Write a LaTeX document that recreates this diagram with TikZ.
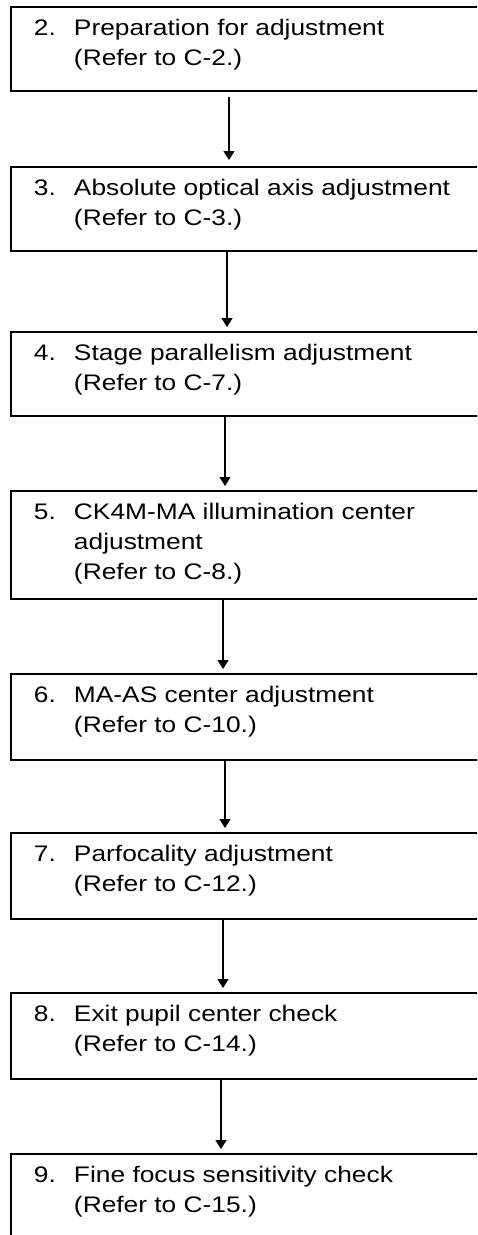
\documentclass[tikz,border=0pt]{standalone}
\usepackage{fontspec}
\setmainfont{Liberation Sans}[FakeStretch=1.17]
\usetikzlibrary{arrows.meta}
\tikzset{
  box/.style={draw, line width=1.6pt, rectangle, anchor=north west, minimum width=520pt, outer sep=0pt, inner sep=0pt},
  lbl/.style={anchor=base west, inner sep=0pt, outer sep=0pt, font=\fontsize{22.5}{30}\selectfont},
  arr/.style={line width=1.5pt, -{Triangle[length=9pt,width=11pt]}}
}
\newcommand{\steptext}[3]{\begin{tabular}[t]{@{}p{40pt}@{}l@{}}#1 & #2\\ & #3\end{tabular}}
\begin{document}
\begin{tikzpicture}[x=1pt,y=1pt]
\clip (0,0) rectangle (477,-1235);
\fill[white] (0,0) rectangle (477,-1235);
% boxes
\node[box, minimum height=84pt]  (b2) at (11,-7) {};
\node[box, minimum height=84pt]  (b3) at (11,-167) {};
\node[box, minimum height=84pt]  (b4) at (11,-332) {};
\node[box, minimum height=108pt] (b5) at (11,-491) {};
\node[box, minimum height=86pt]  (b6) at (11,-674) {};
\node[box, minimum height=86pt]  (b7) at (11,-833) {};
\node[box, minimum height=86pt]  (b8) at (11,-993) {};
\node[box, minimum height=90pt]  (b9) at (11,-1154) {};
% texts
\node[lbl] (t2) at (34,-35)   {\steptext{2.}{Preparation for adjustment}{(Refer to C-2.)}};
\node[lbl] (t3) at (34,-195)  {\steptext{3.}{Absolute optical axis adjustment}{(Refer to C-3.)}};
\node[lbl] (t4) at (34,-360)  {\steptext{4.}{Stage parallelism adjustment}{(Refer to C-7.)}};
\node[lbl] (t5) at (34,-519)  {\begin{tabular}[t]{@{}p{40pt}@{}l@{}}5. & CK4M-MA illumination center\\ & adjustment\\ & (Refer to C-8.)\end{tabular}};
\node[lbl] (t6) at (34,-702)  {\steptext{6.}{MA-AS center adjustment}{(Refer to C-10.)}};
\node[lbl] (t7) at (34,-861)  {\steptext{7.}{Parfocality adjustment}{(Refer to C-12.)}};
\node[lbl] (t8) at (34,-1021) {\steptext{8.}{Exit pupil center check}{(Refer to C-14.)}};
\node[lbl] (t9) at (34,-1182) {\steptext{9.}{Fine focus sensitivity check}{(Refer to C-15.)}};
% arrows
\draw[arr] ([xshift=218pt,yshift=-6pt]b2.south west) -- ([xshift=218pt,yshift=7pt]b3.north west);
\draw[arr] ([xshift=216pt]b3.south west) -- ([xshift=216pt,yshift=5pt]b4.north west);
\draw[arr] ([xshift=214pt]b4.south west) -- ([xshift=214pt,yshift=5pt]b5.north west);
\draw[arr] ([xshift=212pt]b5.south west) -- ([xshift=212pt,yshift=5pt]b6.north west);
\draw[arr] ([xshift=214pt]b6.south west) -- ([xshift=214pt,yshift=5pt]b7.north west);
\draw[arr] ([xshift=212pt]b7.south west) -- ([xshift=212pt,yshift=5pt]b8.north west);
\draw[arr] ([xshift=210pt]b8.south west) -- ([xshift=210pt,yshift=5pt]b9.north west);
\end{tikzpicture}
\end{document}
